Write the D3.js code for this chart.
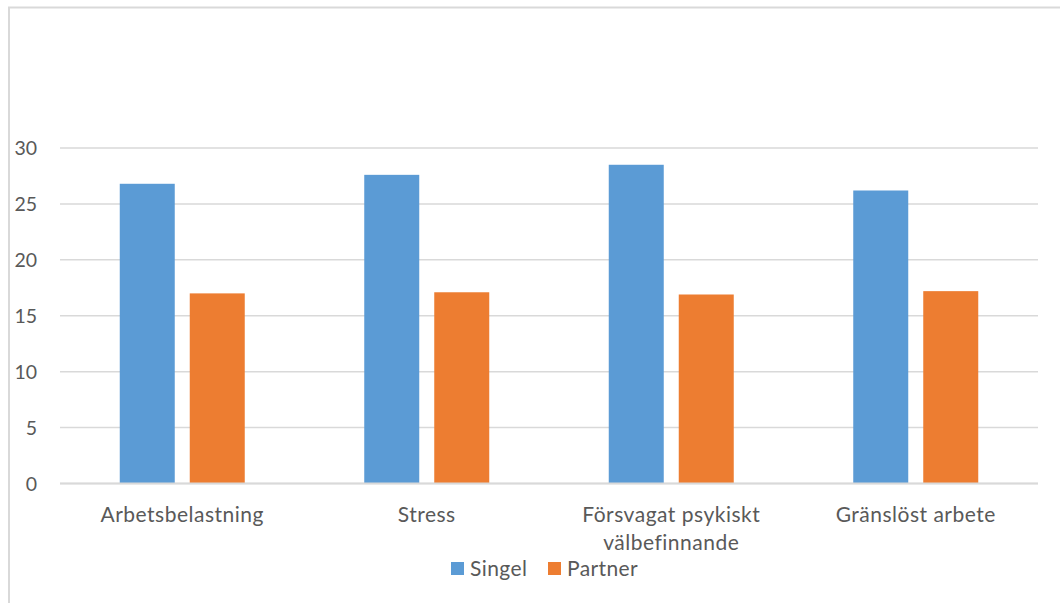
<!DOCTYPE html>
<html>
<head>
<meta charset="utf-8">
<script src="https://cdn.jsdelivr.net/npm/d3@7"></script>
<style>
  html, body { margin: 0; padding: 0; background: #fff; }
  svg { display: block; }
  text { font-family: Lato, "Open Sans", sans-serif; fill: #595959; }
</style>
</head>
<body>
<svg id="chart" width="1060" height="603"></svg>
<script>
// Categories and series
const categories = ["Arbetsbelastning", "Stress", "Försvagat psykiskt välbefinnande", "Gränslöst arbete"];
const categoryLines = [["Arbetsbelastning"], ["Stress"], ["Försvagat psykiskt", "välbefinnande"], ["Gränslöst arbete"]];
const seriesNames = ["Singel", "Partner"];
const singelValues = [26.8, 27.6, 28.5, 26.2];
const partnerValues = [17.0, 17.1, 16.9, 17.2];
const yTicks = [0, 5, 10, 15, 20, 25, 30];
const seriesColors = ["#5b9bd5", "#ed7d31"];

const svg = d3.select("#chart");

// Chart frame
svg.append("rect")
  .attr("x", 9).attr("y", 7.5)
  .attr("width", 1060).attr("height", 610)
  .attr("fill", "none").attr("stroke", "#d9d9d9").attr("stroke-width", 2);

const plot = { left: 60, right: 1038, top: 148, bottom: 483.5 };

const x = d3.scaleBand().domain(categories).range([plot.left, plot.right]).paddingInner(0).paddingOuter(0);
const y = d3.scaleLinear().domain([0, 30]).range([plot.bottom, plot.top]);

// Horizontal gridlines
svg.append("g").selectAll("line").data(yTicks).join("line")
  .attr("x1", plot.left).attr("x2", plot.right)
  .attr("y1", d => y(d)).attr("y2", d => y(d))
  .attr("stroke", "#d9d9d9").attr("stroke-width", 1.5);

// Y axis labels
const yAxis = d3.axisLeft(y).tickValues(yTicks).tickSize(0).tickPadding(0);
const yg = svg.append("g").attr("transform", "translate(37,0)").call(yAxis);
yg.select(".domain").remove();
yg.selectAll("text")
  .attr("font-size", 19.5).attr("font-family", "Lato, sans-serif")
  .attr("fill", "#595959").attr("dy", "0.35em");

// Bars: two bars per category with a small gap between them
const barW = 55, innerGap = 15;
const rows = categories.map((c, i) => ({ c, vals: [singelValues[i], partnerValues[i]] }));
const groups = svg.append("g").selectAll("g").data(rows).join("g")
  .attr("transform", d => `translate(${x(d.c) + x.bandwidth() / 2},0)`);
groups.selectAll("rect").data(d => d.vals.map((v, k) => ({ v, k }))).join("rect")
  .attr("x", d => d.k === 0 ? -innerGap / 2 - barW : innerGap / 2)
  .attr("width", barW)
  .attr("y", d => y(d.v))
  .attr("height", d => y(0) - y(d.v))
  .attr("fill", d => seriesColors[d.k]);

// Baseline
svg.append("line")
  .attr("x1", plot.left).attr("x2", plot.right)
  .attr("y1", y(0)).attr("y2", y(0))
  .attr("stroke", "#d9d9d9").attr("stroke-width", 2);

// Category labels
const xl = svg.append("g").selectAll("text").data(categories).join("text")
  .attr("x", d => x(d) + x.bandwidth() / 2)
  .attr("y", 522)
  .attr("text-anchor", "middle")
  .attr("font-size", 21)
  .attr("letter-spacing", 0.5);
xl.each(function (d, i) {
  d3.select(this).selectAll("tspan").data(categoryLines[i]).join("tspan")
    .attr("x", x(d) + x.bandwidth() / 2)
    .attr("dy", (t, j) => j === 0 ? 0 : 28)
    .text(t => t);
});

// Legend
const legend = svg.append("g").attr("transform", "translate(451,562)");
const legendX = [0, 97];
seriesNames.forEach((name, k) => {
  legend.append("rect").attr("x", legendX[k]).attr("y", 0).attr("width", 13).attr("height", 13)
    .attr("fill", seriesColors[k]);
  legend.append("text").attr("x", legendX[k] + 19).attr("y", 13.5)
    .attr("font-size", 21).attr("letter-spacing", 0.4).text(name);
});
</script>
</body>
</html>
